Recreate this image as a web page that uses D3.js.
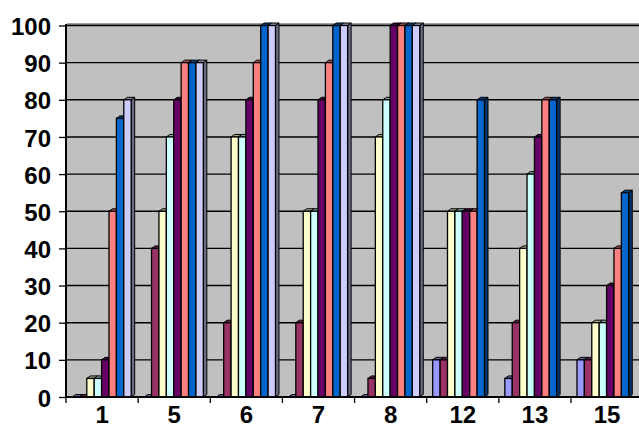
<!DOCTYPE html>
<html>
<head>
<meta charset="utf-8">
<script src="https://cdn.jsdelivr.net/npm/d3@7"></script>
<style>
  html, body { margin: 0; padding: 0; background: #ffffff; }
  svg { display: block; }
  text { font-family: "Liberation Sans", Arial, sans-serif; font-weight: bold; }
</style>
</head>
<body>
<svg id="chart" width="639" height="435"></svg>
<script>
const categories = ["1", "5", "6", "7", "8", "12", "13", "15"];
const seriesNames = ["S1", "S2", "S3", "S4", "S5", "S6", "S7", "S8"];
const seriesColors = ["#9999FF", "#993366", "#FFFFCC", "#CCFFFF", "#660066", "#FF8080", "#0066CC", "#CCCCFF"];
const s1 = [0, 0, 0, 0, 0, 10, 5, 10];
const s2 = [0, 40, 20, 20, 5, 10, 20, 10];
const s3 = [5, 50, 70, 50, 70, 50, 40, 20];
const s4 = [5, 70, 70, 50, 80, 50, 60, 20];
const s5 = [10, 80, 80, 80, 100, 50, 70, 30];
const s6 = [50, 90, 90, 90, 100, 50, 80, 40];
const s7 = [75, 90, 100, 100, 100, 80, 80, 55];
const s8 = [80, 90, 100, 100, 100, null, null, null];
const seriesValues = [s1, s2, s3, s4, s5, s6, s7, s8];
const yTicks = [0, 10, 20, 30, 40, 50, 60, 70, 80, 90, 100];

const svg = d3.select("#chart");
const mLeft = 66, mTop = 25.5, mBottom = 397, bandW = 72.14;
const mRight = mLeft + categories.length * bandW;

const x0 = d3.scaleBand().domain(categories).range([mLeft, mRight]).padding(0);
const x1 = d3.scaleBand().domain(seriesNames).range([6, 65.2]).padding(0);
const y = d3.scaleLinear().domain([0, 100]).range([mBottom, mTop]);

// wall
svg.append("rect").attr("x", mLeft + 1).attr("y", mTop - 1.5).attr("width", mRight - mLeft).attr("height", mBottom - mTop + 1.5)
  .attr("fill", "#C0C0C0");
svg.append("line").attr("x1", mLeft + 1).attr("x2", mRight).attr("y1", mTop - 1.5).attr("y2", mTop - 1.5)
  .attr("stroke", "#808080").attr("stroke-width", 1.5);

// gridlines
svg.append("g").selectAll("line").data(yTicks.filter(d => d > 0)).join("line")
  .attr("x1", mLeft).attr("x2", mRight)
  .attr("y1", d => y(d)).attr("y2", d => y(d))
  .attr("stroke", "#000").attr("stroke-width", 1.4);

// bars (3D-ish clustered columns)
const dx = 3.5, dy = 2.5;
function darker(c, k) { return d3.color(c).darker(k).formatHex(); }
const barsG = svg.append("g");
categories.forEach((cat, ci) => {
  seriesNames.forEach((sn, si) => {
    const v = seriesValues[si][ci];
    if (v === null || v === undefined) return;
    const xs = x0(cat) + x1(sn);
    const w = x1.bandwidth();
    const yt = y(v), yb = y(0);
    const col = seriesColors[si];
    const g = barsG.append("g");
    g.append("polygon")
      .attr("points", [[xs + w, yt], [xs + w + dx, yt - dy], [xs + w + dx, yb - dy], [xs + w, yb]].map(p => p.join(",")).join(" "))
      .attr("fill", darker(col, 1.8)).attr("stroke", "#000").attr("stroke-width", 1);
    g.append("polygon")
      .attr("points", [[xs, yt], [xs + dx, yt - dy], [xs + w + dx, yt - dy], [xs + w, yt]].map(p => p.join(",")).join(" "))
      .attr("fill", darker(col, 1.2)).attr("stroke", "#000").attr("stroke-width", 1);
    g.append("rect").attr("x", xs).attr("y", yt).attr("width", w).attr("height", yb - yt)
      .attr("fill", col).attr("stroke", "#000").attr("stroke-width", 1.3);
  });
});

// y axis
const yAxis = d3.axisLeft(y).tickValues(yTicks).tickSize(7).tickPadding(8).tickFormat(d3.format("d"));
const yg = svg.append("g").attr("transform", `translate(${mLeft},0)`).call(yAxis);
yg.select(".domain").attr("stroke", "#000").attr("stroke-width", 2).attr("d", `M0,${mTop - 1.5}V${mBottom}`);
yg.selectAll(".tick line").attr("stroke", "#000").attr("stroke-width", 1.3);
yg.selectAll(".tick text").attr("font-size", 24).attr("fill", "#000").attr("dy", "0.38em")
  .style("font-family", '"Liberation Sans", Arial, sans-serif').style("font-weight", "bold");

// x axis
const xAxis = d3.axisBottom(x0).tickSize(6).tickPadding(3);
const xg = svg.append("g").attr("transform", `translate(0,${mBottom})`).call(xAxis);
xg.select(".domain").attr("stroke", "#000").attr("stroke-width", 2).attr("d", `M${mLeft},0H${mRight}`);
xg.selectAll(".tick line").attr("stroke", "#000").attr("stroke-width", 1.3)
  .attr("transform", `translate(${-bandW / 2},0)`);
xg.selectAll(".tick text").attr("font-size", 24).attr("fill", "#000")
  .style("font-family", '"Liberation Sans", Arial, sans-serif').style("font-weight", "bold");
</script>
</body>
</html>
